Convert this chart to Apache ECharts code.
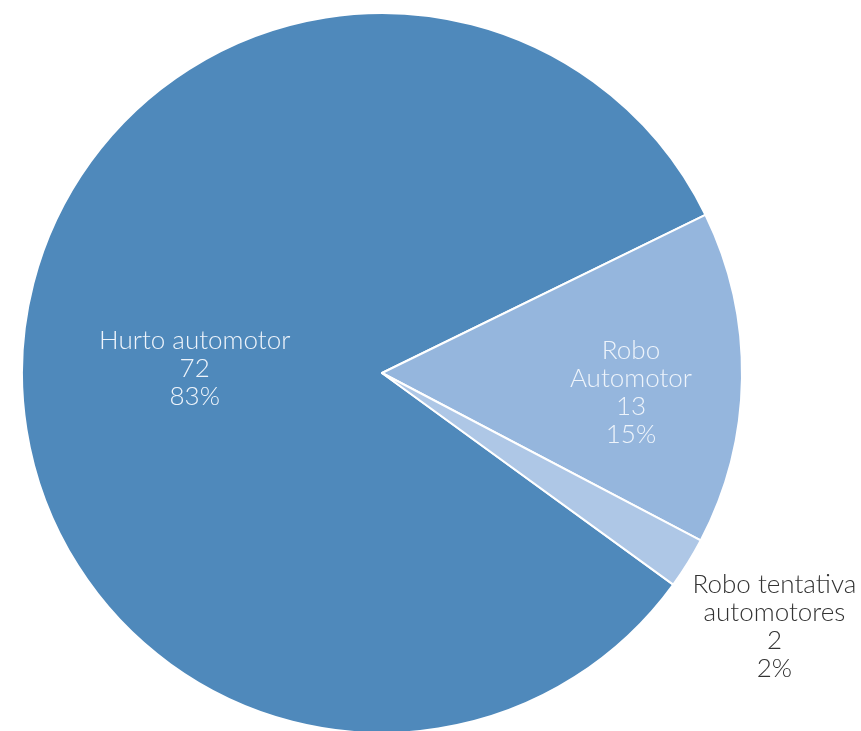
<!DOCTYPE html>
<html>
<head>
<meta charset="utf-8">
<script src="https://cdn.jsdelivr.net/npm/echarts@6/dist/echarts.min.js"></script>
<style>
html,body{margin:0;padding:0;background:#fff;}
#chart{width:861px;height:731px;}
</style>
</head>
<body>
<div id="chart"></div>
<script>
const categories = ["Hurto automotor", "Robo\nAutomotor", "Robo tentativa\nautomotores"];
const values = [72, 13, 2];
const sliceColors = ["#4f89bb", "#95b6dd", "#aec7e6"];
const labelColors = ["#eef4fb", "#eef4fb", "#333333"];

const labelShift = [[-5, 11], [66, 17], [237, 157]];

const chart = echarts.init(document.getElementById('chart'), null, {renderer: 'canvas'});
chart.setOption({
  animation: false,
  backgroundColor: '#ffffff',
  series: [{
    type: 'pie',
    center: [382, 373],
    radius: [0, 360],
    startAngle: 324,
    clockwise: true,
    percentPrecision: 0,
    avoidLabelOverlap: false,
    itemStyle: {borderColor: '#ffffff', borderWidth: 2},
    label: {
      show: true,
      position: 'inside',
      formatter: '{b}\n{c}\n{d}%',
      fontFamily: 'Lato',
      fontWeight: 300,
      fontSize: 26,
      lineHeight: 28,
      align: 'center'
    },
    labelLine: {show: false},
    labelLayout: function (p) {
      const s = labelShift[p.dataIndex];
      return {dx: s[0], dy: s[1]};
    },
    emphasis: {disabled: true},
    data: categories.map((c, i) => ({
      name: c,
      value: values[i],
      itemStyle: {color: sliceColors[i]},
      label: {color: labelColors[i]}
    }))
  }]
});
</script>
</body>
</html>
